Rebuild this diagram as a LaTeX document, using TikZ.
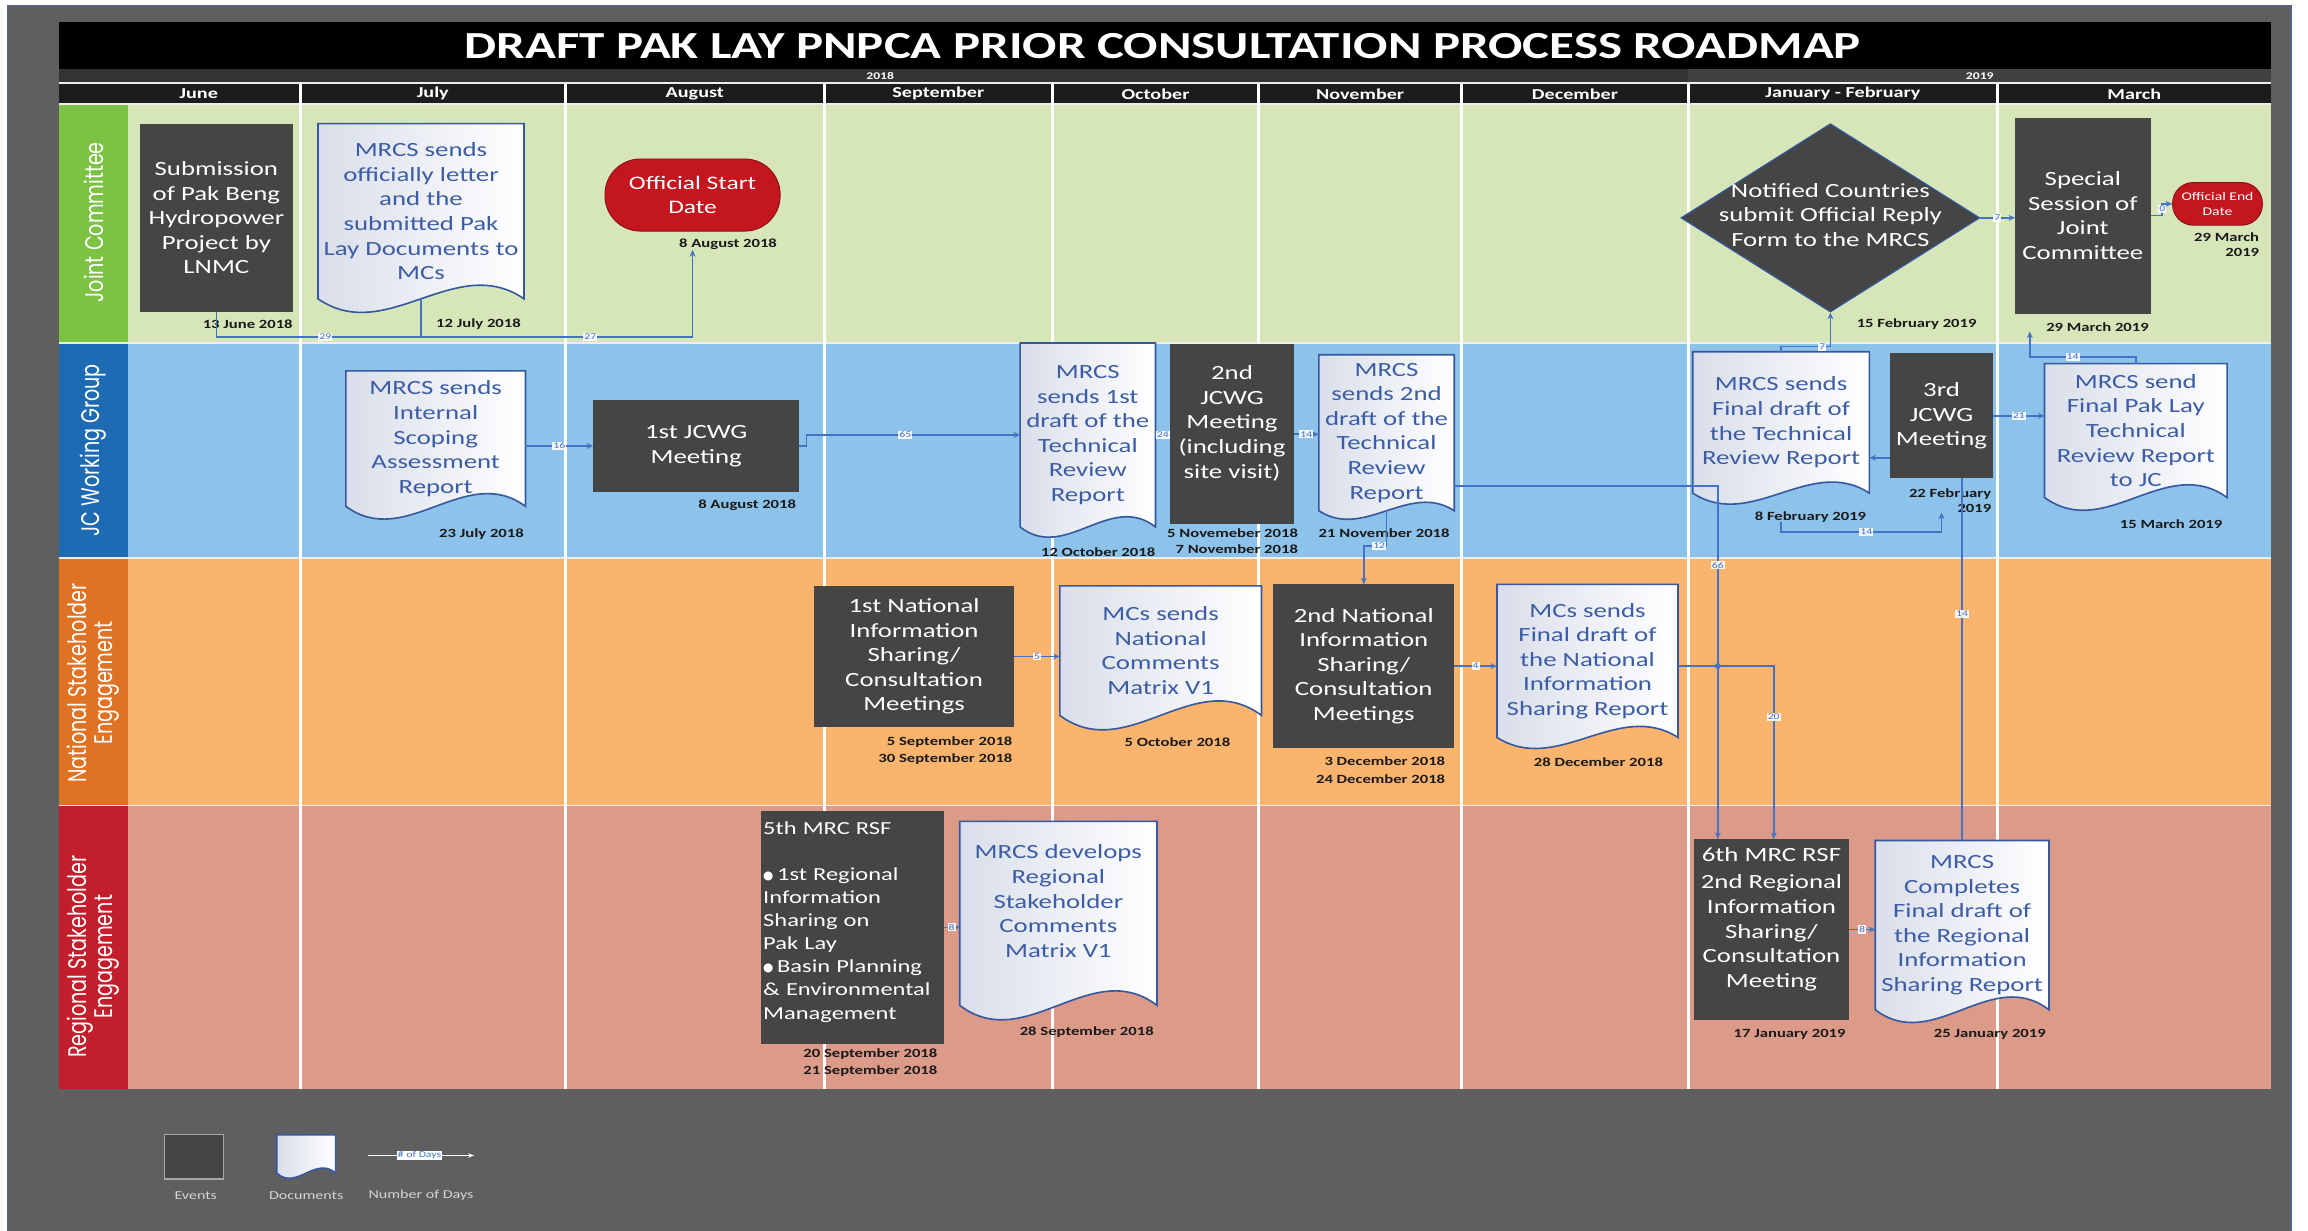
\documentclass[tikz,border=0pt]{standalone}
\usepackage{fontspec}
\usepackage{graphicx}
\setmainfont{Carlito}[FakeStretch=1.33]
\newfontfamily\lanefont{Poppins}
\newfontfamily\bulletfont{DejaVu Sans}
\usetikzlibrary{calc,arrows.meta,shapes.geometric}
\pgfdeclarelayer{lanes}
\pgfdeclarelayer{docs}
\pgfsetlayers{lanes,docs,main}

\definecolor{bggray}{HTML}{5F5F5F}
\definecolor{evgray}{HTML}{454545}
\definecolor{jcbg}{HTML}{D7E6B9}
\definecolor{jclab}{HTML}{7CC243}
\definecolor{wgbg}{HTML}{8DC3EA}
\definecolor{wglab}{HTML}{1E6BB4}
\definecolor{nsbg}{HTML}{FBB46E}
\definecolor{nslab}{HTML}{E07224}
\definecolor{rsbg}{HTML}{DC9A89}
\definecolor{rslab}{HTML}{C31E2B}
\definecolor{conn}{HTML}{4472C4}
\definecolor{doctxt}{HTML}{3C5DA5}
\definecolor{docedge}{HTML}{3558A0}
\definecolor{docsh}{HTML}{D9DEEA}
\definecolor{red1}{HTML}{C3161F}
\definecolor{hdr}{HTML}{1C1C1C}
\definecolor{yra}{HTML}{333333}
\definecolor{yrb}{HTML}{414141}
\definecolor{dtc}{HTML}{1A1A1A}
\definecolor{lgtxt}{HTML}{D5D5D5}
\definecolor{edgeblue}{HTML}{4A66A8}
\definecolor{sepc}{HTML}{EDEDED}

\newcommand\bt{\fontsize{13.7}{16.7}\selectfont}
\newcommand\dtf{\bfseries\fontsize{8.5}{10}\selectfont}
\newcommand\clf{\fontsize{6}{7}\selectfont}
\newcommand\titlef{\bfseries\fontsize{26}{30}\selectfont}
\newcommand\monf{\bfseries\fontsize{10.3}{12}\selectfont}
\newcommand\yrf{\bfseries\fontsize{7}{8}\selectfont}
\newcommand\lanef{\lanefont\fontsize{13}{13}\selectfont}
\newcommand\legf{\fontsize{8.2}{10}\selectfont}
\newcommand\bul{{\bulletfont\fontsize{8}{8}\selectfont\raisebox{0.6pt}{●}}\hspace{2.5pt}}

\newcommand\mkev[6]{\node[ev, minimum width={#4-#2}, minimum height={#5-#3}] (#1) at ({(#2+#4)/2},{(#3+#5)/2}) {#6};}
\newcommand\mkdoc[7]{%
  \node[doct, minimum width={#4-#2}, minimum height={#5-#3}] (#1) at ({(#2+#4)/2},{(#3+#5)/2}) {#7};
  \begin{pgfonlayer}{docs}
  \path[docfill] (#1.north west) -- (#1.north east) -- (#1.south east)
     .. controls ($(#1.south east)!0.3333!(#1.south west)+(0,-#6)$) and ($(#1.south west)!0.3333!(#1.south east)+(0,#6)$) .. (#1.south west) -- cycle;
  \end{pgfonlayer}}

\begin{document}
\begin{tikzpicture}[x=1pt,y=-1pt,
  ev/.style={fill=evgray, text=white, align=center, inner sep=0pt, outer sep=0pt, font=\bt},
  doct/.style={text=doctxt, align=center, inner sep=0pt, outer sep=0pt, font=\bt},
  docfill/.style={draw=docedge, line width=1.1pt, left color=docsh, right color=white},
  dt/.style={font=\dtf, anchor=east, inner sep=0pt, text=dtc, align=right},
  cn/.style={draw=conn, line width=1.1pt, -{Stealth[length=4.5pt,width=4pt]}},
  cnp/.style={draw=conn, line width=1.1pt},
  cl/.style={fill=white, fill opacity=0.9, text opacity=1, text=conn, font=\clf, inner sep=0.7pt},
  mon/.style={text=white, font=\monf, inner sep=0pt},
  lanelab/.style={rotate=90, text=white, font=\lanef, inner sep=0pt},
  redo/.style={fill=red1, draw=red1!70!black, line width=0.6pt, text=white, align=center, inner sep=0pt},
  leg/.style={text=lgtxt, font=\legf, inner sep=0pt}
]
\useasboundingbox (0,0) rectangle (1568,836);

\begin{pgfonlayer}{lanes}
\fill[white] (0,0) rectangle (1568,836);
\fill[bggray] (5,4) rectangle (1557,836);
\draw[edgeblue, line width=0.8pt] (5,836) -- (5,4) -- (1557,4) -- (1557,836);
\fill[black] (40,15) rectangle (1543,47);
\fill[yra] (40,47) rectangle (1147,56);
\fill[yrb] (1147,47) rectangle (1543,56);
\fill[hdr] (40,57) rectangle (1543,70.5);
\fill[jclab] (40,71) rectangle (87,233); \fill[jcbg] (87,71) rectangle (1543,233);
\fill[wglab] (40,233) rectangle (87,379); \fill[wgbg] (87,233) rectangle (1543,379);
\fill[nslab] (40,379) rectangle (87,547); \fill[nsbg] (87,379) rectangle (1543,547);
\fill[rslab] (40,547) rectangle (87,740); \fill[rsbg] (87,547) rectangle (1543,740);
\draw[sepc, line width=1pt] (40,56.5) -- (1543,56.5);
\draw[sepc, line width=1pt] (40,70.8) -- (1543,70.8);
\draw[sepc, line width=1.2pt] (40,233.2) -- (1543,233.2);
\draw[sepc, line width=1.2pt] (40,379.2) -- (1543,379.2);
\draw[sepc, line width=1.2pt] (40,547.2) -- (1543,547.2);
\foreach \x in {204,384,560,715,855,993,1147,1357} \draw[white, line width=2pt] (\x,57) -- (\x,740);
\end{pgfonlayer}

% title and headers
\node[text=white, font=\titlef, inner sep=0pt] (title) at (790,31) {DRAFT PAK LAY PNPCA PRIOR CONSULTATION PROCESS ROADMAP};
\node[text=white, font=\yrf, inner sep=0pt] (y2018) at (598,51.5) {2018};
\node[text=white, font=\yrf, inner sep=0pt] (y2019) at (1345,51.5) {2019};
\node[mon] (mJun) at (135,63.7) {June};
\node[mon] (mJul) at (294,63.7) {July};
\node[mon] (mAug) at (472,63.7) {August};
\node[mon] (mSep) at (637.5,63.7) {September};
\node[mon] (mOct) at (785,63.7) {October};
\node[mon] (mNov) at (924,63.7) {November};
\node[mon] (mDec) at (1070,63.7) {December};
\node[mon] (mJF) at (1252,63.7) {January - February};
\node[mon] (mMar) at (1450,63.7) {March};

% lane labels
\node[lanelab] (ln1) at (63.5,151) {\scalebox{1}[1.33]{Joint Committee}};
\node[lanelab] (ln2) at (63.5,306) {\scalebox{1}[1.33]{JC Working Group}};
\node[lanelab] (ln3) at (63.5,464) {\scalebox{1}[1.33]{\begin{tabular}{@{}c@{}}National Stakeholder\\Engagement\end{tabular}}};
\node[lanelab] (ln4) at (63.5,650) {\scalebox{1}[1.33]{\begin{tabular}{@{}c@{}}Regional Stakeholder\\Engagement\end{tabular}}};

% events
\mkev{e1}{95}{84}{199}{212}{Submission\\of Pak Beng\\Hydropower\\Project by\\LNMC}
\mkev{ev1}{403}{272}{543}{334}{1st JCWG\\Meeting}
\mkev{ev2}{795}{234}{879}{356}{2nd\\JCWG\\Meeting\\(including\\site visit)\\\mbox{}}
\mkev{e3}{1284}{240}{1354}{325}{3rd\\JCWG\\Meeting}
\mkev{ss}{1369}{80}{1461}{213}{Special\\Session of\\Joint\\Committee}
\mkev{en1}{553}{398}{689}{494}{1st National\\Information\\Sharing/\\Consultation\\Meetings}
\mkev{en2}{865}{397}{988}{508}{2nd National\\Information\\Sharing/\\Consultation\\Meetings}
\mkev{e6}{1151}{570}{1256}{693}{6th MRC RSF\\[2pt]2nd Regional\\Information\\Sharing/\\Consultation\\Meeting\\\mbox{}}
\node[ev, align=left, text width=121pt, inner xsep=1.5pt, minimum height=158pt, font=\fontsize{12.5}{15.7}\selectfont] (e5) at (579,630) {5th MRC RSF\\[15.7pt]\bul 1st Regional\\Information\\Sharing on\\Pak Lay\\\bul Basin Planning\\\& Environmental\\Management\\[-6pt]\mbox{}};

\node[redo, rounded corners=24pt, minimum width=119pt, minimum height=49pt, font=\fontsize{13}{16}\selectfont] (oStart) at (470.5,132.5) {Official Start\\Date};
\node[redo, rounded corners=14pt, minimum width=61pt, minimum height=29pt, font=\fontsize{8}{10}\selectfont] (oEnd) at (1506.5,138.5) {Official End\\Date};
\node[diamond, fill=evgray, draw=docedge, line width=0.8pt, minimum width=203pt, minimum height=128pt, inner sep=0pt, text=white, font=\bt] (dia) at (1243.5,148) {\smash{\makebox[0pt]{\raisebox{-3pt}{\begin{tabular}{@{}c@{}}Notified Countries\\submit Official Reply\\Form to the MRCS\end{tabular}}}}};

% documents
\mkdoc{dOff}{216}{84}{356}{203}{32}{MRCS sends\\officially letter\\and the\\submitted Pak\\Lay Documents to\\MCs}
\mkdoc{dScope}{235}{252}{357}{344}{30}{MRCS sends\\Internal\\Scoping\\Assessment\\Report}
\mkdoc{d1st}{693}{233}{785}{358}{24}{MRCS\\sends 1st\\draft of the\\Technical\\Review\\Report}
\mkdoc{d2nd}{896}{241}{988}{347}{20}{MRCS\\sends 2nd\\draft of the\\Technical\\Review\\Report}
\mkdoc{dFTR}{1150}{239}{1270}{335}{26}{MRCS sends\\Final draft of\\the Technical\\Review Report}
\mkdoc{dFPL}{1389}{247}{1513}{338}{30}{MRCS send\\Final Pak Lay\\Technical\\Review Report\\to JC}
\mkdoc{dNat1}{720}{398}{857}{486}{34}{MCs sends\\National\\Comments\\Matrix V1}
\mkdoc{dNatF}{1017}{397}{1140}{501}{26}{MCs sends\\Final draft of\\the National\\Information\\Sharing Report}
\mkdoc{dReg1}{652}{558}{786}{683}{34}{MRCS develops\\Regional\\Stakeholder\\Comments\\Matrix V1\\\mbox{}}
\mkdoc{dRegF}{1274}{571}{1392}{686}{30}{MRCS\\Completes\\Final draft of\\the Regional\\Information\\Sharing Report}

% dates
\node[dt] (dt1) at (199,220) {13 June 2018};
\node[dt] (dt2) at (354,220) {12 July 2018};
\node[dt] (dtStart) at (528,166) {8 August 2018};
\node[dt] (dtDia) at (1343,220) {15 February 2019};
\node[dt] (dtSS) at (1460,222) {29 March 2019};
\node[dt] (dtEnd) at (1535,166) {29 March\\2019};
\node[dt] (dtScope) at (356,363) {23 July 2018};
\node[dt] (dtEv1) at (541,343) {8 August 2018};
\node[dt] (dt1st) at (785,375) {12 October 2018};
\node[dt] (dtEv2a) at (882,362) {5 Novemeber 2018};
\node[dt] (dtEv2b) at (882,373) {7 November 2018};
\node[dt] (dt2nd) at (985,362) {21 November 2018};
\node[dt] (dtFTR) at (1268,351) {8 February 2019};
\node[dt] (dtE3) at (1353,340) {22 February\\2019};
\node[dt] (dtFPL) at (1510,356) {15 March 2019};
\node[dt] (dtEn1a) at (688,504) {5 September 2018};
\node[dt] (dtEn1b) at (688,516) {30 September 2018};
\node[dt] (dtNat1) at (836,504) {5 October 2018};
\node[dt] (dtEn2a) at (982,517) {3 December 2018};
\node[dt] (dtEn2b) at (982,529) {24 December 2018};
\node[dt] (dtNatF) at (1130,518) {28 December 2018};
\node[dt] (dtE5a) at (637,716) {20 September 2018};
\node[dt] (dtE5b) at (637,728) {21 September 2018};
\node[dt] (dtReg1) at (784,701) {28 September 2018};
\node[dt] (dtE6) at (1254,703) {17 January 2019};
\node[dt] (dtRegF) at (1390,703) {25 January 2019};

% connectors
\coordinate (yjc) at (0,229);
\draw[cn] (e1.south) -- (e1.south |- yjc) -- (oStart.south |- yjc) -- (oStart.south |- dtStart.south);
\draw[cnp] (dOff.south) -- (dOff.south |- yjc);
\node[cl] (l29) at (221,229) {29};
\node[cl] (l27) at (401,229) {27};

\draw[cn] (ev1.west -| dScope.east) -- (ev1.west);
\node[cl] (l16) at (380,303) {16};
\draw[cn] (ev1.east) -- ++(5,0) |- (d1st.west);
\node[cl] (l65) at (615,295.5) {65};
\draw[cn] (d1st.east) -- (d1st.east -| ev2.west);
\node[cl] (l24) at (790,295.5) {24};
\draw[cn] (ev2.east) -- (ev2.east -| d2nd.west);
\node[cl] (l14a) at (887.5,295) {14};

\coordinate (y12) at (0,371);
\draw[cn] (d2nd.south) -- (d2nd.south |- y12) -- (en2.north |- y12) -- (en2.north);
\node[cl] (l12) at (937,371) {12};

\coordinate (x66) at (1167,330);
\draw[cn] (d2nd.east |- x66) -- (x66) -- (x66 |- e6.north);
\node[cl] (l66) at (1167,384) {66};

\draw[cn] (en1.east) -- (en1.east -| dNat1.west);
\node[cl] (l5) at (704.5,446) {5};
\draw[cn] (en2.east) -- (en2.east -| dNatF.west);
\node[cl] (l4) at (1002.5,452.5) {4};
\coordinate (x20) at (1205,452.5);
\draw[cn] (en2.east -| dNatF.east) -- (x20) -- (x20 |- e6.north);
\fill[conn] (x66 |- x20) circle (2pt);
\node[cl] (l20) at (1205,487) {20};

\draw[cn] (e5.east) -- (e5.east -| dReg1.west);
\node[cl] (l8a) at (646.5,630) {8};
\draw[cn] (e6.east) -- (e6.east -| dRegF.west);
\node[cl] (l8b) at (1265,631.5) {8};

\draw[cnp] (dRegF.north) -- (dRegF.north |- e3.south);
\node[cl] (l14d) at (1333,417) {14};

\coordinate (y361) at (0,361.5);
\draw[cn] (dFTR.south |- dtFTR.south) -- (dFTR.south |- y361) -- (e3.south |- y361) -- (e3.south |- dtE3.south);
\node[cl] (l14b) at (1268,361.5) {14};

\coordinate (y235) at (0,235.5);
\draw[cn] (dFTR.north) -- (dFTR.north |- y235) -- (dia.south |- y235) -- (dia.south);
\node[cl] (l7a) at (1238,235.5) {7};

\draw[cn] (dia.east) -- (dia.east -| ss.west);
\node[cl] (l7b) at (1357,148) {7};
\draw[cn] (ss.east) -- ++(8,0) |- (oEnd.west);
\node[cl] (l0) at (1469,142) {0};

\coordinate (y242) at (0,242.5);
\coordinate (x1379) at (1379,0);
\draw[cn] (dFPL.north) -- (dFPL.north |- y242) -- (x1379 |- y242) -- (x1379 |- dtSS.south);
\node[cl] (l14c) at (1408,242.5) {14};

\draw[cn] (e3.east) -- (e3.east -| dFPL.west);
\node[cl] (l21) at (1371.5,282.5) {21};
\coordinate (y311) at (0,311);
\draw[cn] (e3.west |- y311) -- (dFTR.east |- y311);

% legend
\node[fill=evgray, draw=gray!70, line width=0.8pt, minimum width=40pt, minimum height=30pt, inner sep=0pt] (lgev) at (132,786) {};
\mkdoc{lgdoc}{188}{771}{228}{797}{12}{}
\coordinate (lga) at (250,785);
\coordinate (lgb) at (322,785);
\draw[white, line width=0.9pt, -{Stealth[length=4pt]}] (lga) -- (lgb);
\node[fill=white, text=conn, font=\clf, inner sep=0.6pt] (lgl) at (285,785) {\# of Days};
\node[leg] (lgt1) at (133,812) {Events};
\node[leg] (lgt2) at (208,812) {Documents};
\node[leg] (lgt3) at (286,812) {Number of Days};
\end{tikzpicture}
\end{document}
